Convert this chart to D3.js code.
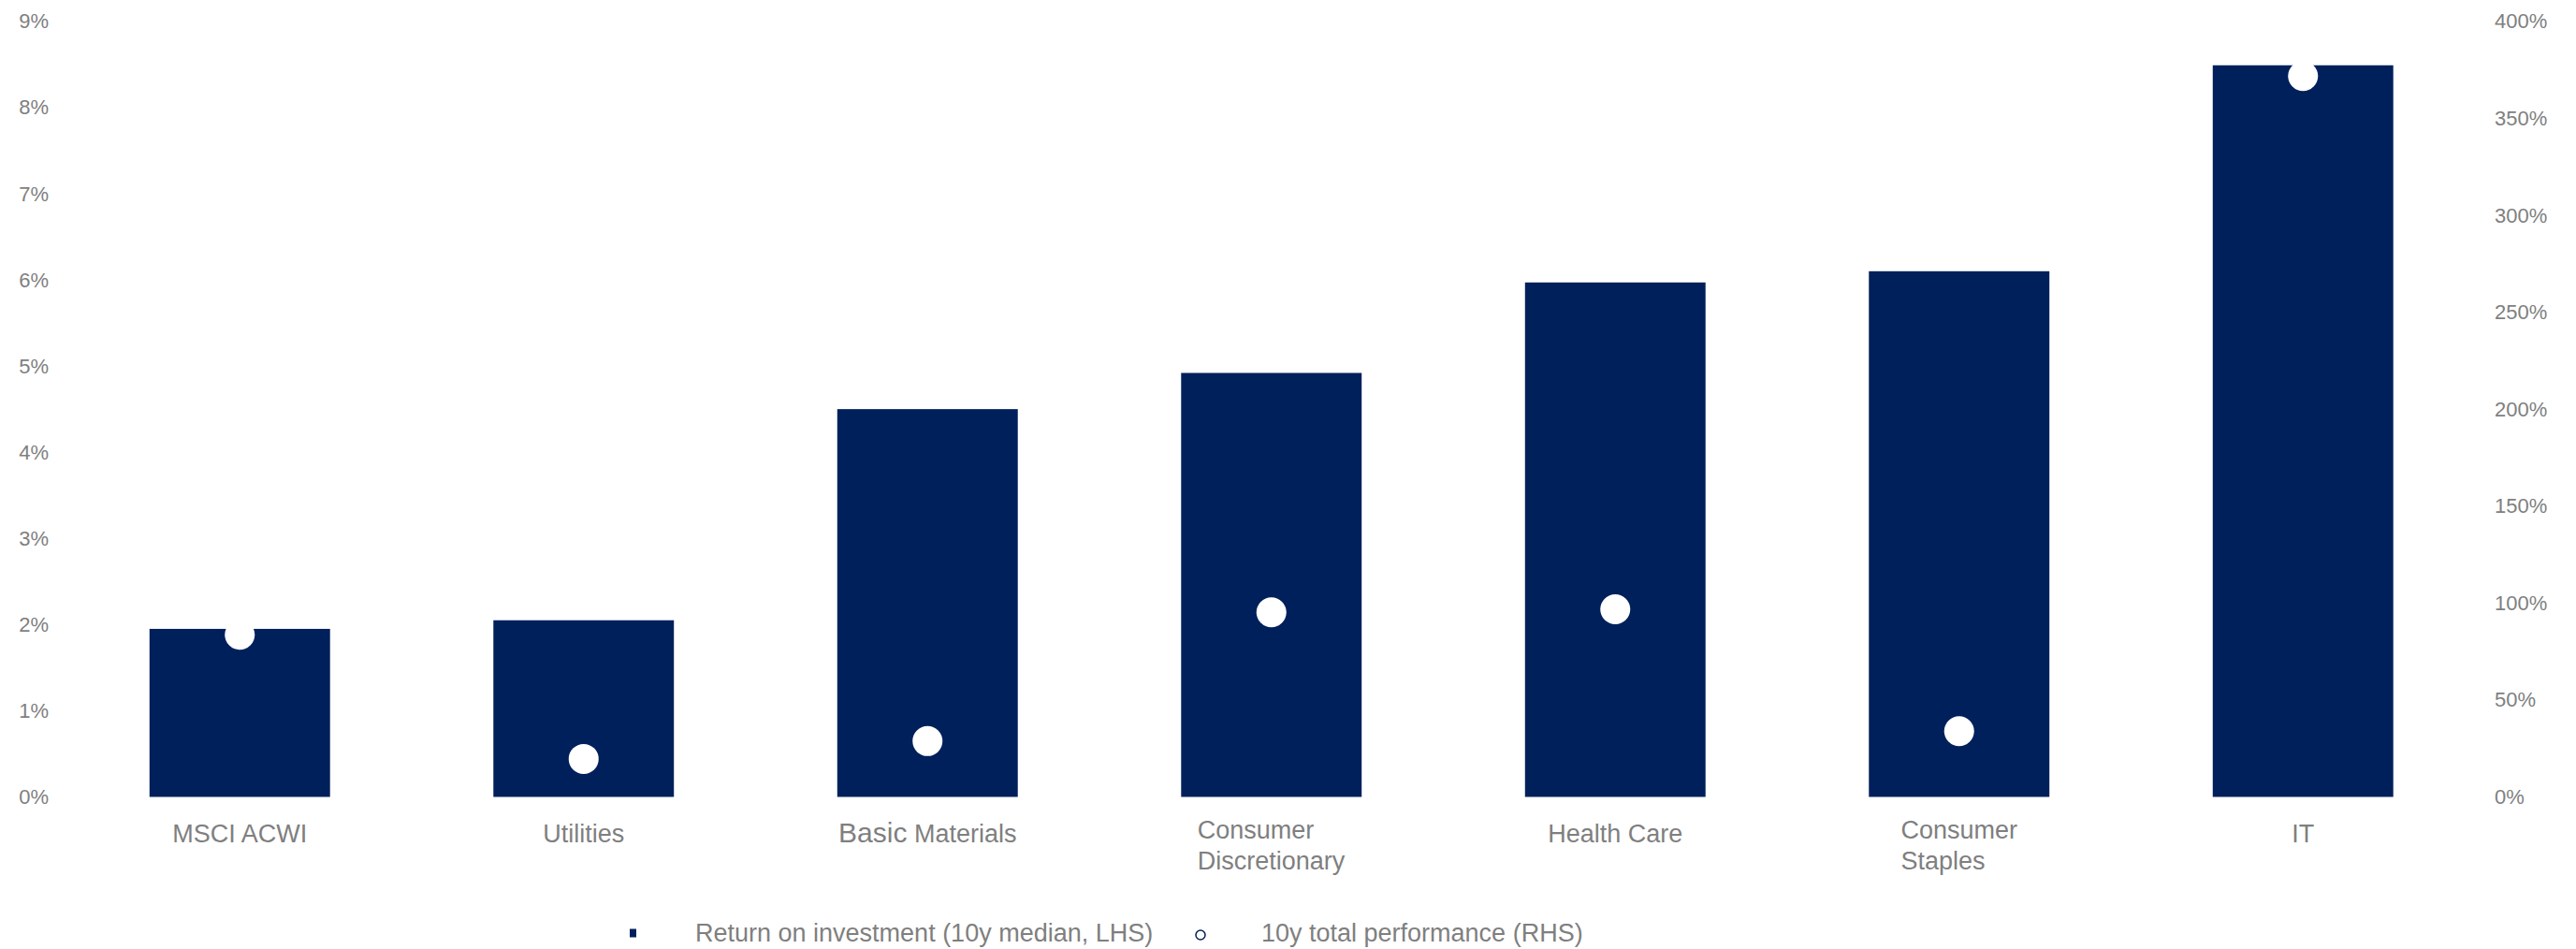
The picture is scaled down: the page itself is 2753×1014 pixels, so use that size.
<!DOCTYPE html>
<html>
<head>
<meta charset="utf-8">
<script src="https://cdn.jsdelivr.net/npm/d3@7"></script>
<style>
  html, body { margin: 0; padding: 0; background: #ffffff; }
  svg { display: block; }
  text { font-family: "Liberation Sans", Arial, sans-serif; fill: #7f7f7f; }
</style>
</head>
<body>
<svg id="chart" width="2753" height="1014"></svg>
<script>
// Sector labels ("\n" marks a line break in the axis label)
const categories = [
  "MSCI ACWI",
  "Utilities",
  "Basic Materials",
  "Consumer\nDiscretionary",
  "Health Care",
  "Consumer\nStaples",
  "IT"
];
// Return on investment, 10y median (%), left axis
const roiValues = [1.95, 2.05, 4.50, 4.92, 5.97, 6.10, 8.49];
// 10y total performance (%), right axis
const perfValues = [83.6, 19.6, 28.8, 95.2, 96.8, 33.9, 371.8];
// Axis ticks
const leftTicks = [0, 1, 2, 3, 4, 5, 6, 7, 8, 9];
const rightTicks = [0, 50, 100, 150, 200, 250, 300, 350, 400];
// Legend entries
const legendLabels = ["Return on investment (10y median, LHS)", "10y total performance (RHS)"];

const NAVY = "#00205b";
const svg = d3.select("#chart");

const x = d3.scaleBand()
  .domain(categories)
  .range([72.5, 2645])
  .paddingInner(0.475)
  .paddingOuter(0.2375);

const yLeft = d3.scaleLinear().domain([0, 9]).range([851.5, 22.8]);
const yRight = d3.scaleLinear().domain([0, 400]).range([851.5, 22.8]);

// Left axis
const gl = svg.append("g")
  .attr("transform", "translate(52,0)")
  .call(d3.axisLeft(yLeft).tickValues(leftTicks).tickSize(0).tickPadding(0)
    .tickFormat(d => d + "%"));
gl.select(".domain").remove();
gl.selectAll("text")
  .style("font-size", "22px")
  .style("font-family", "'Liberation Sans', Arial, sans-serif")
  .attr("fill", "#7f7f7f");

// Right axis
const gr = svg.append("g")
  .attr("transform", "translate(2666,0)")
  .call(d3.axisRight(yRight).tickValues(rightTicks).tickSize(0).tickPadding(0)
    .tickFormat(d => d + "%"));
gr.select(".domain").remove();
gr.selectAll("text")
  .style("font-size", "22px")
  .style("font-family", "'Liberation Sans', Arial, sans-serif")
  .attr("fill", "#7f7f7f");

// Bars
svg.append("g").selectAll("rect")
  .data(categories)
  .join("rect")
  .attr("x", d => x(d))
  .attr("width", x.bandwidth())
  .attr("y", (d, i) => yLeft(roiValues[i]))
  .attr("height", (d, i) => yLeft(0) - yLeft(roiValues[i]))
  .attr("fill", NAVY);

// Performance dots
svg.append("g").selectAll("circle")
  .data(categories)
  .join("circle")
  .attr("cx", d => x(d) + x.bandwidth() / 2)
  .attr("cy", (d, i) => yRight(perfValues[i]))
  .attr("r", 16)
  .attr("fill", "#ffffff");

// Category labels
const labels = svg.append("g").selectAll("g")
  .data(categories)
  .join("g")
  .attr("transform", d => `translate(${x(d) + x.bandwidth() / 2},0)`);

labels.each(function (d) {
  const g = d3.select(this);
  const lines = d.split("\n");
  if (lines.length === 1) {
    const t = g.append("text")
      .attr("text-anchor", "middle")
      .attr("y", 900)
      .style("font-size", "27px");
    if (d === "Basic Materials") {
      t.append("tspan").style("font-size", "30px").text("Basic");
      t.append("tspan").text(" Materials");
    } else {
      t.text(d);
    }
  } else {
    // multi-line labels: left-aligned block, centred under the bar
    const t = g.append("text").style("font-size", "27px");
    lines.forEach((ln, i) => {
      t.append("tspan").attr("x", 0).attr("y", 896 + i * 33).text(ln);
    });
    const w = t.node().getBBox().width;
    t.selectAll("tspan").attr("x", -w / 2);
  }
});

// Legend
const lg = svg.append("g");
lg.append("rect")
  .attr("x", 673).attr("y", 992.5)
  .attr("width", 7).attr("height", 9)
  .attr("fill", NAVY);
lg.append("text")
  .attr("x", 743).attr("y", 1006)
  .style("font-size", "27px")
  .text(legendLabels[0]);
lg.append("circle")
  .attr("cx", 1283).attr("cy", 999)
  .attr("r", 5)
  .attr("fill", "#ffffff")
  .attr("stroke", NAVY)
  .attr("stroke-width", 1.5);
lg.append("text")
  .attr("x", 1348).attr("y", 1006)
  .style("font-size", "27px")
  .text(legendLabels[1]);
</script>
</body>
</html>
